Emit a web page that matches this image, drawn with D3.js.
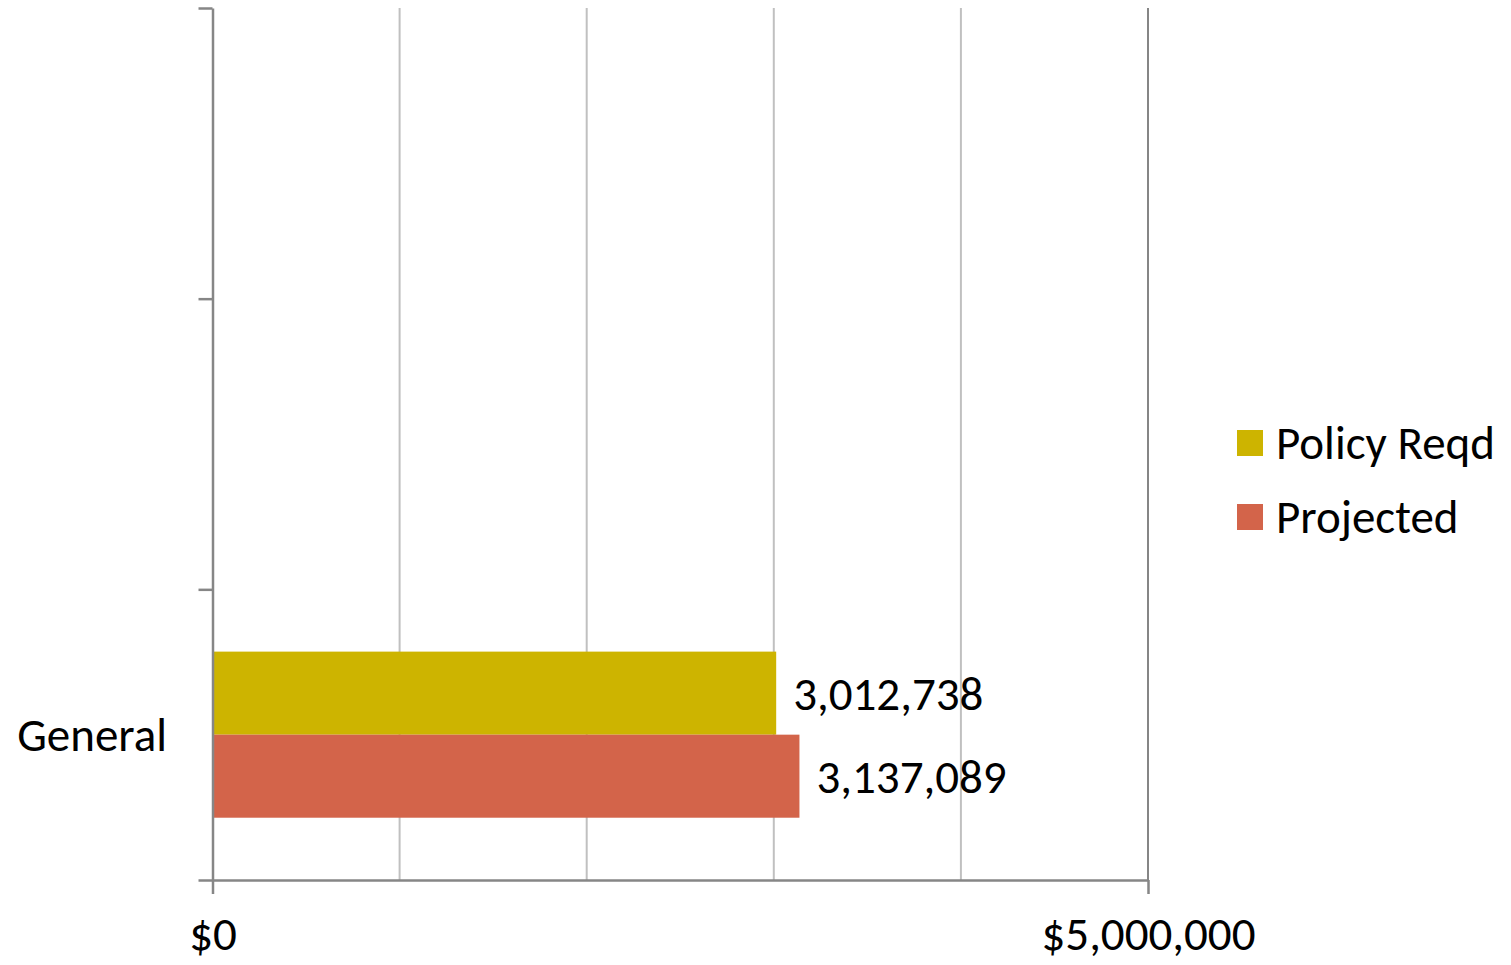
<!DOCTYPE html>
<html>
<head>
<meta charset="utf-8">
<script src="https://cdn.jsdelivr.net/npm/d3@7"></script>
<style>
  html, body { margin: 0; padding: 0; background: #fff; }
  svg text { font-family: Carlito, Calibri, Lato, "Open Sans", sans-serif; fill: #000; }
</style>
</head>
<body>
<svg id="chart" width="1511" height="965"></svg>
<script>
// Category slots, bottom to top (only the first carries a name)
const categories = ["General", "", ""];
const seriesNames = ["Policy Reqd", "Projected"];
const policyReqd = [3012738, null, null];
const projected = [3137089, null, null];
const seriesColors = ["#CDB400", "#D3644A"];
const xTickLabels = ["$0", "$5,000,000"];
const xTickValues = [0, 5000000];
const gridStep = 1000000;

const seriesValues = [policyReqd, projected];
const fontSize = 47;

const svg = d3.select("#chart");

const x = d3.scaleLinear().domain([0, 5000000]).range([212.5, 1148]);
const idx = categories.map((_, i) => i);
const y = d3.scaleBand().domain(idx).range([880, 8]).padding(0);
const ySeries = d3.scaleBand().domain(seriesNames).range([0, y.bandwidth()])
  .paddingInner(0).paddingOuter(0.75);

// Vertical gridlines
const gridVals = d3.range(gridStep, 5000000 + 1, gridStep);
svg.append("g").selectAll("line").data(gridVals).join("line")
  .attr("x1", d => x(d)).attr("x2", d => x(d))
  .attr("y1", 8).attr("y2", 880)
  .attr("stroke", d => d % 5000000 === 0 ? "#868686" : "#C0C0C0")
  .attr("stroke-width", 2);

// Bars with value labels
seriesNames.forEach((s, si) => {
  svg.append("g").selectAll("rect")
    .data(idx.filter(i => seriesValues[si][i] != null))
    .join("rect")
    .attr("x", x(0))
    .attr("y", i => y(i) + ySeries(s))
    .attr("width", i => x(seriesValues[si][i]) - x(0))
    .attr("height", ySeries.bandwidth())
    .attr("fill", seriesColors[si]);

  svg.append("g").selectAll("text")
    .data(idx.filter(i => seriesValues[si][i] != null))
    .join("text")
    .attr("x", i => x(seriesValues[si][i]) + 17)
    .attr("y", i => y(i) + ySeries(s) + ySeries.bandwidth() / 2)
    .attr("dy", "0.35em")
    .attr("font-size", fontSize)
    .text(i => d3.format(",")(seriesValues[si][i]));
});

// Category axis with boundary ticks
const yEdge = d3.scaleLinear().domain([0, categories.length]).range([880, 8]);
const yAxis = svg.append("g").attr("transform", `translate(${x(0)},0)`)
  .call(d3.axisLeft(yEdge).tickValues(d3.range(0, categories.length + 1))
    .tickSize(14).tickSizeOuter(0).tickFormat(""));
yAxis.selectAll("path, line").attr("stroke", "#868686").attr("stroke-width", 2.5);

svg.append("g").selectAll("text").data(idx).join("text")
  .attr("x", 167).attr("y", i => y(i) + y.bandwidth() / 2)
  .attr("dy", "0.35em").attr("text-anchor", "end")
  .attr("font-size", fontSize)
  .text(i => categories[i]);

// Value axis
const xAxis = svg.append("g").attr("transform", "translate(0,880)")
  .call(d3.axisBottom(x).tickValues(xTickValues).tickSize(14).tickSizeOuter(0)
    .tickFormat((d, i) => xTickLabels[i]));
xAxis.selectAll("path, line").attr("stroke", "#868686").attr("stroke-width", 2.5);
xAxis.selectAll("text").attr("font-size", fontSize).attr("dy", 0).attr("y", 70)
  .attr("fill", "#000");

// Legend
const legend = svg.append("g").attr("transform", "translate(1237,430)");
seriesNames.forEach((s, i) => {
  const g = legend.append("g").attr("transform", `translate(0,${i * 74})`);
  g.append("rect").attr("width", 26).attr("height", 26).attr("fill", seriesColors[i]);
  g.append("text").attr("x", 39).attr("y", 13).attr("dy", "0.35em")
    .attr("font-size", fontSize).text(s);
});
</script>
</body>
</html>
